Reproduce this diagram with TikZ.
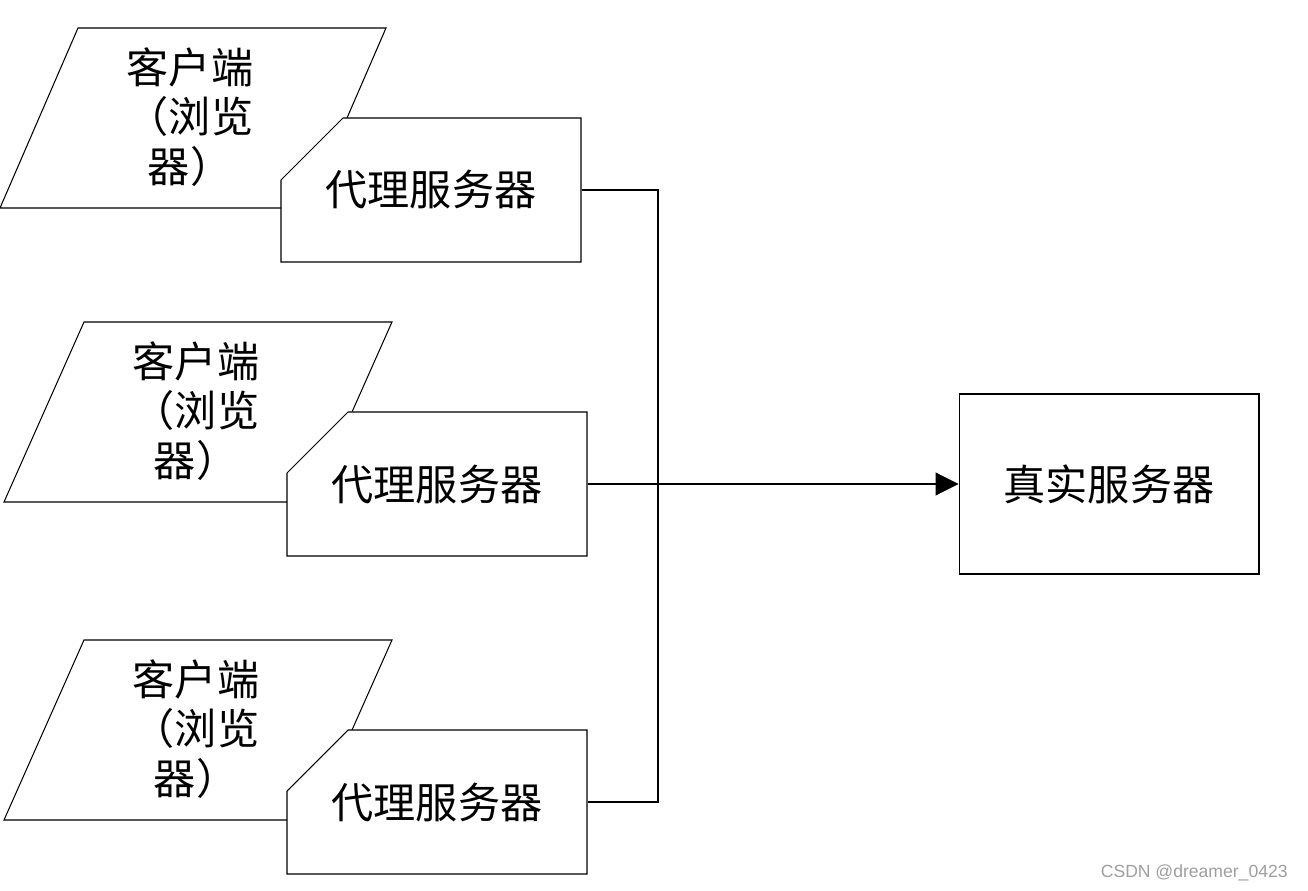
\documentclass[tikz,border=0pt]{standalone}
\usepackage{fontspec}
\newfontfamily\cjk{Noto Sans CJK SC}
\newfontfamily\wmfont{Liberation Sans}
\usetikzlibrary{arrows.meta}

\begin{document}
\begin{tikzpicture}[x=0.02cm, y=-0.02cm, line width=0.6pt,
  client/.style={draw, fill=white},
  clienttext/.style={align=center, font=\cjk\fontsize{24}{28}\selectfont},
  proxybox/.style={draw, fill=white},
  proxy/.style={rectangle, inner sep=0pt, minimum width=6cm, minimum height=2.88cm,
    font=\cjk\fontsize{24}{28}\selectfont},
  server/.style={draw, rectangle, inner sep=0pt, minimum width=6cm, minimum height=3.6cm,
    font=\cjk\fontsize{24}{28}\selectfont}]

  % Fix the page to the size of the reference
  \useasboundingbox (0,0) rectangle (1308,891);

  % Draw the clients (browsers)
  \draw[client] (0,208) -- (78,28) -- (386,28) -- (308,208) -- cycle;
  \node[clienttext] (c1) at (190,117) {客户端\\（浏览\\器）};
  \draw[client] (4,502) -- (84,322) -- (392,322) -- (312,502) -- cycle;
  \node[clienttext] (c2) at (196,411) {客户端\\（浏览\\器）};
  \draw[client] (4,820) -- (84,640) -- (392,640) -- (312,820) -- cycle;
  \node[clienttext] (c3) at (196,729) {客户端\\（浏览\\器）};

  % Draw the proxy servers on top of the clients (cut top left corner)
  \path[proxybox] (343,118) -- (581,118) -- (581,262) -- (281,262) -- (281,180) -- cycle;
  \node[proxy] (p1) at (431,190) {代理服务器};
  \path[proxybox] (348,412) -- (587,412) -- (587,556) -- (287,556) -- (287,473) -- cycle;
  \node[proxy] (p2) at (437,484) {代理服务器};
  \path[proxybox] (348,730) -- (587,730) -- (587,874) -- (287,874) -- (287,791) -- cycle;
  \node[proxy] (p3) at (437,802) {代理服务器};

  % Draw the real server
  \node[server] (real) at (1109,484) {真实服务器};

  % Join the proxies and lead to the real server
  \coordinate (join) at (658,484);
  \draw (p1.east) -| (join);
  \draw (p3.east) -| (join);
  \draw[-{Triangle[length=0.46cm, width=0.46cm]}] (p2.east) -- (real.west);

  % Watermark
  \node[anchor=east, text=black!38, font=\wmfont\fontsize{10}{12}\selectfont] (mark) at (1294,873) {CSDN @dreamer\_0423};
\end{tikzpicture}
\end{document}
